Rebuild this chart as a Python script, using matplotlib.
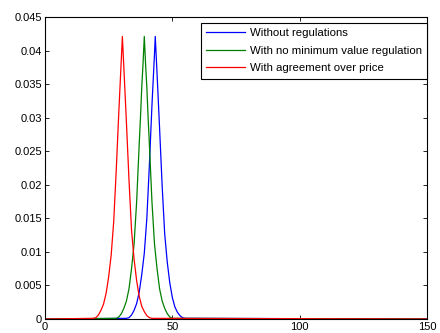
import matplotlib
matplotlib.use("Agg")
import matplotlib.pyplot as plt

plt.rcParams["font.family"] = ["Liberation Sans", "DejaVu Sans"]

# values
blue_x = [0, 32, 33, 34, 35, 36, 37, 38, 39, 40, 41, 42, 43, 43.3, 44, 45, 46, 47, 48,
          49, 50, 51, 52, 53, 54, 55, 150]
blue_y = [0, 0.0001, 0.0002, 0.0006, 0.0013, 0.0023, 0.0040, 0.0066, 0.0098, 0.0150,
          0.0230, 0.0318, 0.0395, 0.0421, 0.0366, 0.0284, 0.0199, 0.0127, 0.0085,
          0.0054, 0.0032, 0.0018, 0.0010, 0.0005, 0.0002, 0.0001, 0]

green_x = [0, 28, 29, 30, 31, 32, 33, 34, 35, 36, 37, 37.5, 38, 38.5, 39, 39.5, 40,
           40.5, 41, 42, 43, 44, 45, 46, 47, 48, 49, 50, 150]
green_y = [0, 0.0001, 0.0003, 0.0008, 0.0016, 0.0027, 0.0045, 0.0075, 0.0112, 0.0175,
           0.0260, 0.0300, 0.0345, 0.0380, 0.0421, 0.0380, 0.0345, 0.0300, 0.0260,
           0.0175, 0.0112, 0.0075, 0.0045, 0.0027, 0.0016, 0.0008, 0.0003, 0.0001, 0]

red_x = [0, 19, 20, 21, 22, 23, 24, 25, 26, 27, 28, 29, 30, 30.4, 31, 32, 33, 34, 35,
         36, 37, 38, 39, 40, 41, 42, 150]
red_y = [0, 0.0001, 0.0002, 0.0006, 0.0013, 0.0022, 0.0038, 0.0062, 0.0095, 0.0145,
         0.0222, 0.0308, 0.0388, 0.0421, 0.0373, 0.0292, 0.0207, 0.0132, 0.0089,
         0.0057, 0.0034, 0.0019, 0.0011, 0.0005, 0.0002, 0.0001, 0]

labels = ["Without regulations", "With no minimum value regulation",
          "With agreement over price"]
xticks = [0, 50, 100, 150]
yticks = [0, 0.005, 0.01, 0.015, 0.02, 0.025, 0.03, 0.035, 0.04, 0.045]

fig = plt.figure(figsize=(4.4, 3.33), dpi=100)
ax = fig.add_axes([0.102, 0.042, 0.869, 0.907])

ax.plot(blue_x, blue_y, color=(0, 0, 1), lw=0.9, label=labels[0])
ax.plot(green_x, green_y, color=(0, 0.5, 0), lw=0.9, label=labels[1])
ax.plot(red_x, red_y, color=(1, 0, 0), lw=0.9, label=labels[2])

ax.set_xlim(0, 150)
ax.set_ylim(0, 0.045)
ax.set_xticks(xticks)
ax.set_yticks(yticks)
ax.set_xticklabels([str(t) for t in xticks])
ax.set_yticklabels(["0", "0.005", "0.01", "0.015", "0.02", "0.025", "0.03",
                    "0.035", "0.04", "0.045"])
ax.tick_params(direction="in", top=True, right=True, length=3, width=0.6,
               labelsize=8, pad=2)
for s in ax.spines.values():
    s.set_linewidth(0.8)

leg = ax.legend(loc="upper right", bbox_to_anchor=(1.0, 0.98), borderaxespad=0,
                fontsize=8.2, handlelength=3.4, labelspacing=0.67, fancybox=False,
                framealpha=1, edgecolor="black", borderpad=0.45, handletextpad=0.45)
leg.get_frame().set_linewidth(0.8)

fig.savefig("out.png", dpi=100)
